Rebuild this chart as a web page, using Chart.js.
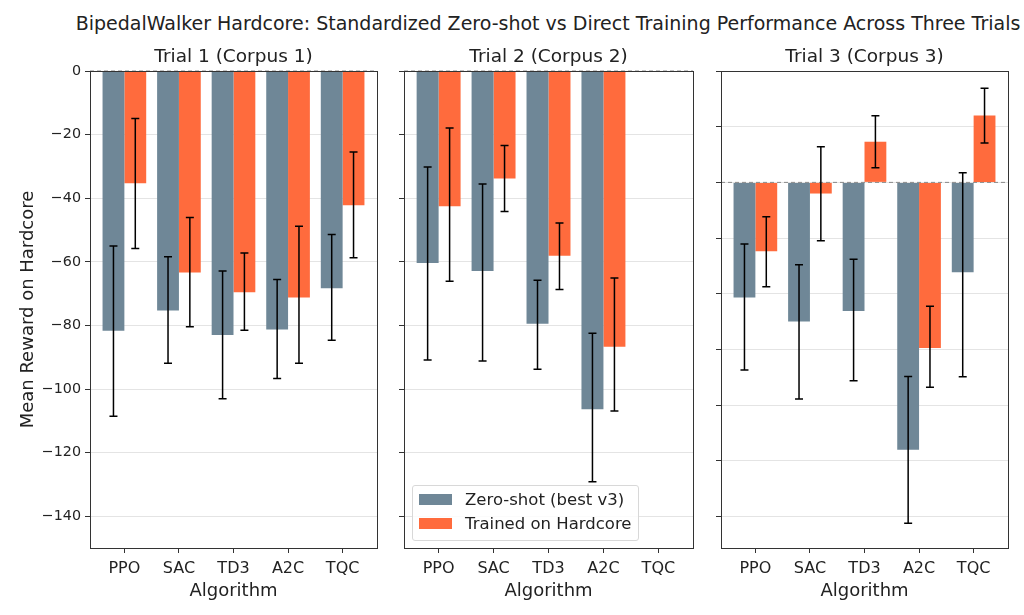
<!DOCTYPE html>
<html>
<head>
<meta charset="utf-8">
<script src="https://cdn.jsdelivr.net/npm/chart.js@4/dist/chart.umd.min.js"></script>
<style>
  html, body { margin:0; padding:0; background:#fff; overflow:hidden; }
  body { width:1024px; height:615px; position:relative; font-family:'DejaVu Sans', sans-serif; color:#222; }
  .panel { position:absolute; top:46px; height:560px; }
  #suptitle { position:absolute; left:0; width:1096px; top:12px; text-align:center; font-size:19px; white-space:nowrap; }
  #legend { position:absolute; left:412px; top:485px; width:225px; height:54px; border:1px solid #d8d8d8; border-radius:3px; background:rgba(255,255,255,0.85); font-size:16.5px; }
  #legend div { position:absolute; left:6px; height:20px; line-height:20px; white-space:nowrap; }
  #legend span { display:inline-block; width:33px; height:11px; vertical-align:middle; margin-right:13px; margin-top:-3px; }
</style>
</head>
<body>
<div id="suptitle">BipedalWalker Hardcore: Standardized Zero-shot vs Direct Training Performance Across Three Trials</div>
<div class="panel" style="left:0;width:380px"><canvas id="c1"></canvas></div>
<div class="panel" style="left:394px;width:302px"><canvas id="c2"></canvas></div>
<div class="panel" style="left:711px;width:300px"><canvas id="c3"></canvas></div>
<div id="legend">
  <div style="top:4px"><span style="background:#6f8797"></span>Zero-shot (best v3)</div>
  <div style="top:28px"><span style="background:#ff6b3d"></span>Trained on Hardcore</div>
</div>
<script>
// data
const algos = ['PPO', 'SAC', 'TD3', 'A2C', 'TQC'];
const trialTitles = ['Trial 1 (Corpus 1)', 'Trial 2 (Corpus 2)', 'Trial 3 (Corpus 3)'];

const zero1 = [-81.7, -75.3, -83.0, -81.3, -68.3];
const zero1Err = [[-108.6, -55.0], [-91.9, -58.4], [-103.1, -62.9], [-96.7, -65.6], [-84.7, -51.4]];
const trained1 = [-35.3, -63.4, -69.6, -71.2, -42.2];
const trained1Err = [[-55.8, -14.9], [-80.4, -46.1], [-81.5, -57.2], [-91.9, -48.8], [-58.7, -25.5]];

const zero2 = [-60.4, -62.9, -79.5, -106.4, null];
const zero2Err = [[-90.9, -30.2], [-91.2, -35.5], [-93.8, -65.8], [-129.2, -82.5], null];
const trained2 = [-42.5, -33.8, -58.1, -86.7, null];
const trained2Err = [[-66.1, -17.9], [-44.2, -23.4], [-68.7, -47.8], [-106.9, -65.1], null];

// trial 3 has its own (unlabelled) axis
const zero3 = [-41.3, -50.0, -46.2, -96.0, -32.3];
const zero3Err = [[-67.4, -22.1], [-77.8, -29.6], [-71.2, -27.6], [-122.4, -69.7], [-69.8, 3.5]];
const trained3 = [-24.7, -4.0, 14.6, -59.5, 24.0];
const trained3Err = [[-37.5, -12.3], [-21.0, 12.8], [5.3, 23.9], [-73.6, -44.5], [14.1, 33.8]];

const yTicks12 = [-140, -120, -100, -80, -60, -40, -20, 0];
const yTicks3 = [-120, -100, -80, -60, -40, -20, 0, 20, 40];

const GRAY = '#6f8797', ORANGE = '#ff6b3d', FRAME = '#333';
const FONT = 'DejaVu Sans';

// error bars, zero line and frame
const extras = {
  id: 'extras',
  beforeDatasetsDraw(chart) {
    const {ctx, chartArea: a, scales: {y}} = chart;
    const y0 = y.getPixelForValue(0);
    ctx.save();
    ctx.strokeStyle = '#888';
    ctx.lineWidth = 1;
    ctx.setLineDash([4, 3]);
    ctx.beginPath(); ctx.moveTo(a.left, y0); ctx.lineTo(a.right, y0); ctx.stroke();
    ctx.restore();
  },
  afterDatasetsDraw(chart) {
    const {ctx, scales: {y}} = chart;
    ctx.save();
    ctx.strokeStyle = '#000';
    ctx.lineWidth = 1.5;
    chart.data.datasets.forEach((ds, d) => {
      const meta = chart.getDatasetMeta(d);
      ds.err.forEach((e, i) => {
        if (!e) return;
        const x = meta.data[i].x;
        const lo = y.getPixelForValue(e[0]), hi = y.getPixelForValue(e[1]);
        ctx.beginPath();
        ctx.moveTo(x, lo); ctx.lineTo(x, hi);
        ctx.moveTo(x - 4, lo); ctx.lineTo(x + 4, lo);
        ctx.moveTo(x - 4, hi); ctx.lineTo(x + 4, hi);
        ctx.stroke();
      });
    });
    ctx.restore();
  },
  afterDraw(chart) {
    const {ctx, chartArea: a} = chart;
    ctx.save();
    ctx.strokeStyle = FRAME;
    ctx.lineWidth = 1;
    ctx.strokeRect(Math.round(a.left) + 0.5, Math.round(a.top) + 0.5, Math.round(a.right - a.left), Math.round(a.bottom - a.top));
    ctx.restore();
  }
};

function fmt(v) { return v < 0 ? '\u2212' + Math.abs(v) : String(v); }

function makePanel(id, idx, zero, zeroErr, trained, trainedErr, yMin, yMax, yTicks, first) {
  new Chart(document.getElementById(id), {
    type: 'bar',
    data: {
      datasets: [
        { label: 'Zero-shot (best v3)', data: zero.map((v, i) => ({x: i, y: v})), err: zeroErr, backgroundColor: GRAY },
        { label: 'Trained on Hardcore', data: trained.map((v, i) => ({x: i, y: v})), err: trainedErr, backgroundColor: ORANGE }
      ]
    },
    options: {
      responsive: true, maintainAspectRatio: false, animation: false,
      categoryPercentage: 0.8, barPercentage: 1.0,
      layout: { padding: { left: 0, right: 3, top: 0, bottom: 0 } },
      plugins: {
        legend: { display: false },
        tooltip: { enabled: false },
        title: { display: true, fullSize: false, text: trialTitles[idx], color: '#222', font: { family: FONT, size: 18.5, weight: 'normal', lineHeight: '22px' }, padding: { top: 0, bottom: 3 } }
      },
      scales: {
        x: {
          type: 'linear', min: -0.63, max: 4.63, offset: false,
          afterBuildTicks: s => { s.ticks = algos.map((_, i) => ({value: i})); },
          afterFit: s => { s.height = 58; },
          ticks: { callback: v => algos[v], color: '#222', font: { family: FONT, size: 16 }, padding: 6, maxRotation: 0, autoSkip: false },
          grid: { drawOnChartArea: false, drawTicks: true, tickLength: 5, tickColor: FRAME, offset: false },
          border: { display: false },
          title: { display: true, text: 'Algorithm', color: '#222', font: { family: FONT, size: 18, lineHeight: '20px' }, padding: { top: 0, bottom: 5 } }
        },
        y: {
          min: yMin, max: yMax,
          afterBuildTicks: s => { s.ticks = yTicks.map(v => ({value: v})); },
          afterFit: s => { s.width = first ? 90 : 10; },
          ticks: { display: first, callback: v => fmt(v), color: '#222', font: { family: FONT, size: 14.3 }, padding: 4 },
          grid: { color: '#e4e4e4', lineWidth: 1, tickLength: 5, tickColor: FRAME },
          border: { display: false },
          title: { display: first, text: 'Mean Reward on Hardcore', color: '#222', font: { family: FONT, size: 18, lineHeight: '20px' }, padding: { top: 18, bottom: 0 } }
        }
      }
    },
    plugins: [extras]
  });
}

makePanel('c1', 0, zero1, zero1Err, trained1, trained1Err, -150, 0, yTicks12, true);
makePanel('c2', 1, zero2, zero2Err, trained2, trained2Err, -150, 0, yTicks12, false);
makePanel('c3', 2, zero3, zero3Err, trained3, trained3Err, -131.3, 40, yTicks3, false);
</script>
</body>
</html>
